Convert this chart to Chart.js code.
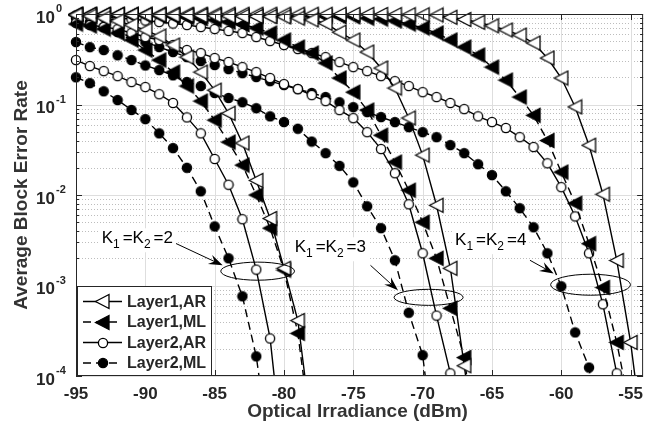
<!DOCTYPE html>
<html>
<head>
<meta charset="utf-8">
<script src="https://cdn.jsdelivr.net/npm/chart.js@4.4.1/dist/chart.umd.min.js"></script>
<style>
  html, body { margin: 0; padding: 0; background: #fff; }
  canvas { display: block; }
</style>
</head>
<body>
<canvas id="chartBler" width="653" height="430"></canvas>
<script>
/* === BLER vs optical irradiance, K1=K2=2,3,4 === */

// Abscisse commune (dBm), un point par dB
const irradiance = [-95, -94, -93, -92, -91, -90, -89, -88, -87, -86, -85, -84, -83, -82,
  -81, -80, -79, -78, -77, -76, -75, -74, -73, -72, -71, -70, -69, -68, -67, -66, -65,
  -64, -63, -62, -61, -60, -59, -58, -57, -56, -55, -54];

// K1=K2=2
const k2Layer1AR = [0.975, 0.95, 0.903, 0.837, 0.755, 0.665, 0.57, 0.454, 0.334, 0.228,
  0.144, 0.080, 0.0375, 0.0145, 0.0055, 0.00155, 0.00041, 0.000025];
const k2Layer1ML = [0.775, 0.737, 0.682, 0.616, 0.516, 0.40, 0.31, 0.228, 0.16, 0.109,
  0.0672, 0.0384, 0.0214, 0.01, 0.0043, 0.00148, 0.000296, 0.00002];
const k2Layer2AR = [0.31, 0.266, 0.234, 0.206, 0.177, 0.156, 0.130, 0.104, 0.072, 0.048,
  0.025, 0.013, 0.0054, 0.0015, 0.00026, 0.00001];
const k2Layer2ML = [0.20, 0.172, 0.14, 0.112, 0.087, 0.069, 0.048, 0.033, 0.020, 0.011,
  0.0045, 0.002, 0.00076, 0.000165, 0.000013];

// K1=K2=3
const k3Layer1AR = [0.99, 0.99, 0.985, 0.985, 0.98, 0.98, 0.975, 0.97, 0.965, 0.96, 0.955,
  0.95, 0.945, 0.94, 0.935, 0.93, 0.90, 0.86, 0.79, 0.63, 0.516, 0.38, 0.253, 0.152, 0.071,
  0.0276, 0.0077, 0.00155, 0.00013, 0.00001];
const k3Layer1ML = [0.97, 0.968, 0.965, 0.962, 0.958, 0.955, 0.95, 0.938, 0.915, 0.89,
  0.858, 0.815, 0.765, 0.70, 0.616, 0.516, 0.431, 0.37, 0.287, 0.196, 0.137, 0.0867, 0.0458,
  0.0231, 0.0113, 0.005, 0.002, 0.00056, 0.00016, 0.000012];
const k3Layer2AR = [0.80, 0.755, 0.718, 0.68, 0.616, 0.557, 0.516, 0.454, 0.40, 0.37, 0.326,
  0.295, 0.259, 0.228, 0.196, 0.168, 0.148, 0.127, 0.109, 0.0868, 0.0707, 0.0495, 0.0322,
  0.0174, 0.0079, 0.00227, 0.000465, 0.000107, 0.00001];
const k3Layer2ML = [0.49, 0.43, 0.40, 0.35, 0.31, 0.27, 0.24, 0.21, 0.177, 0.16, 0.134, 0.118,
  0.106, 0.091, 0.074, 0.064, 0.054, 0.039, 0.029, 0.021, 0.0138, 0.0075, 0.0043, 0.0019,
  0.0005, 0.00017, 0.00001];

// K1=K2=4
const k4Layer1AR = [0.995, 0.995, 0.995, 0.995, 0.995, 0.995, 0.995, 0.995, 0.995, 0.995,
  0.995, 0.995, 0.995, 0.995, 0.995, 0.995, 0.995, 0.995, 0.993, 0.992, 0.99, 0.99, 0.988,
  0.985, 0.982, 0.98, 0.975, 0.92, 0.87, 0.81, 0.74, 0.665, 0.585, 0.478, 0.326, 0.196,
  0.094, 0.0355, 0.0102, 0.00189, 0.000235, 0.000015];
const k4Layer1ML = [0.985, 0.985, 0.984, 0.983, 0.982, 0.98, 0.978, 0.975, 0.972, 0.97,
  0.967, 0.964, 0.96, 0.957, 0.953, 0.95, 0.946, 0.942, 0.938, 0.934, 0.93, 0.90, 0.88,
  0.837, 0.775, 0.70, 0.616, 0.516, 0.431, 0.352, 0.259, 0.186, 0.121, 0.076, 0.040, 0.0179,
  0.0081, 0.0029, 0.00095, 0.000235, 0.00004];
const k4Layer2AR = [0.962, 0.95, 0.926, 0.903, 0.88, 0.847, 0.815, 0.785, 0.755, 0.718, 0.682,
  0.649, 0.616, 0.557, 0.503, 0.454, 0.41, 0.37, 0.334, 0.294, 0.259, 0.234, 0.206, 0.181,
  0.16, 0.137, 0.121, 0.104, 0.089, 0.074, 0.064, 0.055, 0.0436, 0.0339, 0.0224, 0.0122,
  0.0058, 0.00227, 0.00062, 0.000107, 0.00001];
const k4Layer2ML = [0.90, 0.815, 0.718, 0.632, 0.557, 0.49, 0.431, 0.38, 0.334, 0.302, 0.273,
  0.246, 0.222, 0.201, 0.181, 0.164, 0.148, 0.134, 0.121, 0.106, 0.0935, 0.0824, 0.0726,
  0.0639, 0.0562, 0.0495, 0.0436, 0.0356, 0.029, 0.0219, 0.0166, 0.011, 0.00714, 0.0044,
  0.00227, 0.00098, 0.000303, 0.000124, 0.00001];

// Graduations
const xTicks = [-95, -90, -85, -80, -75, -70, -65, -60, -55];
const yDecades = [0, -1, -2, -3, -4];
const legendLabels = ['Layer1,AR', 'Layer1,ML', 'Layer2,AR', 'Layer2,ML'];

// Annotations (coordonnées en dBm / BLER)
const kValues = [2, 3, 4];
const labelAt = [[-93.15, 2.93e-3], [-79.23, 2.33e-3], [-67.66, 2.79e-3]];
const arrowFrom = [[-87.83, 2.93e-3], [-73.76, 1.67e-3], [-62.26, 1.9e-3]];
const arrowTo = [[-84.42, 1.67e-3], [-71.78, 8.85e-4], [-60.55, 1.36e-3]];
const ringAt = [[-81.9, 1.44e-3], [-69.57, 7.4e-4], [-57.89, 1.02e-3]];
const ringHalfDb = [2.66, 2.49, 2.88];
const ringHalfDecade = [0.1, 0.0885, 0.116];

const FONT = '"Liberation Sans", Arial, Helvetica, sans-serif';
const INK = '#262626';

// Marqueurs façon MATLAB ('<' et 'o'), dessinés une fois
function markerCanvas(shape, filled) {
  const s = shape === 'triangle' ? 17 : 12;
  const c = document.createElement('canvas');
  c.width = s; c.height = s;
  const g = c.getContext('2d');
  g.lineWidth = 1.3;
  g.strokeStyle = '#000';
  g.fillStyle = filled ? '#000' : '#fff';
  g.beginPath();
  if (shape === 'triangle') {
    g.moveTo(1.5, s / 2);
    g.lineTo(s - 2, 1.5);
    g.lineTo(s - 2, s - 1.5);
    g.closePath();
  } else {
    g.arc(s / 2, s / 2, s / 2 - 1.4, 0, 2 * Math.PI);
  }
  g.fill();
  g.stroke();
  return c;
}

// Styles des 4 types de courbe
const STYLES = [
  { img: markerCanvas('triangle', false), dash: [] },
  { img: markerCanvas('triangle', true), dash: [8, 5] },
  { img: markerCanvas('circle', false), dash: [] },
  { img: markerCanvas('circle', true), dash: [8, 5] }
];

function toPoints(vals) {
  return vals.map((v, i) => ({ x: irradiance[i], y: v }));
}

function makeDataset(label, vals, st) {
  return {
    label: label,
    data: toPoints(vals),
    borderColor: '#000',
    borderWidth: 1.4,
    borderDash: st.dash,
    fill: false,
    tension: 0,
    pointStyle: st.img,
    pointRadius: st.img.width / 2,
    pointHoverRadius: st.img.width / 2,
    clip: { left: 12, top: 12, right: 2, bottom: 0 }
  };
}

const series = [
  ['K2 ' + legendLabels[0], k2Layer1AR, 0], ['K2 ' + legendLabels[1], k2Layer1ML, 1],
  ['K2 ' + legendLabels[2], k2Layer2AR, 2], ['K2 ' + legendLabels[3], k2Layer2ML, 3],
  ['K3 ' + legendLabels[0], k3Layer1AR, 0], ['K3 ' + legendLabels[1], k3Layer1ML, 1],
  ['K3 ' + legendLabels[2], k3Layer2AR, 2], ['K3 ' + legendLabels[3], k3Layer2ML, 3],
  ['K4 ' + legendLabels[0], k4Layer1AR, 0], ['K4 ' + legendLabels[1], k4Layer1ML, 1],
  ['K4 ' + legendLabels[2], k4Layer2AR, 2], ['K4 ' + legendLabels[3], k4Layer2ML, 3]
];

// K_1=K_2=n avec indices
function drawKLabel(ctx, x, y, k) {
  const parts = [['K', 0], ['1', 1], ['=', 0], ['K', 0], ['2', 1], ['=', 0], [String(k), 0]];
  const big = '17px ' + FONT, small = '12px ' + FONT;
  let w = 0;
  parts.forEach(p => { ctx.font = p[1] ? small : big; w += ctx.measureText(p[0]).width + (p[1] ? 3 : 0); });
  ctx.fillStyle = '#fff';
  ctx.fillRect(x - 3, y - 15, w + 6, 24);
  ctx.fillStyle = '#000';
  ctx.textAlign = 'left';
  ctx.textBaseline = 'alphabetic';
  let cx = x;
  parts.forEach(p => {
    ctx.font = p[1] ? small : big;
    ctx.fillText(p[0], cx, p[1] ? y + 5 : y);
    cx += ctx.measureText(p[0]).width + (p[1] ? 3 : 0);
  });
}

function drawArrow(ctx, x1, y1, x2, y2) {
  const ang = Math.atan2(y2 - y1, x2 - x1);
  const len = 14, half = 5;
  ctx.save();
  ctx.strokeStyle = '#000';
  ctx.fillStyle = '#000';
  ctx.lineWidth = 1;
  ctx.beginPath();
  ctx.moveTo(x1, y1);
  ctx.lineTo(x2 - Math.cos(ang) * len * 0.6, y2 - Math.sin(ang) * len * 0.6);
  ctx.stroke();
  ctx.translate(x2, y2);
  ctx.rotate(ang);
  ctx.beginPath();
  ctx.moveTo(0, 0);
  ctx.lineTo(-len, -half);
  ctx.lineTo(-len * 0.65, 0);
  ctx.lineTo(-len, half);
  ctx.closePath();
  ctx.fill();
  ctx.restore();
}

const axesFrame = {
  id: 'axesFrame',
  beforeDatasetsDraw(chart) {
    const { ctx, chartArea: a, scales: { x, y } } = chart;
    ctx.save();
    ctx.lineWidth = 1;
    // grille mineure pointillée
    ctx.strokeStyle = '#bdbdbd';
    ctx.setLineDash([1, 2]);
    yDecades.slice(1).forEach(e => {
      for (let m = 2; m <= 9; m++) {
        const py = Math.round(y.getPixelForValue(m * Math.pow(10, e))) + 0.5;
        ctx.beginPath(); ctx.moveTo(a.left, py); ctx.lineTo(a.right, py); ctx.stroke();
      }
    });
    // grille majeure
    ctx.setLineDash([]);
    ctx.strokeStyle = '#dedede';
    yDecades.forEach(e => {
      const py = Math.round(y.getPixelForValue(Math.pow(10, e))) + 0.5;
      ctx.beginPath(); ctx.moveTo(a.left, py); ctx.lineTo(a.right, py); ctx.stroke();
    });
    xTicks.forEach(t => {
      const px = Math.round(x.getPixelForValue(t)) + 0.5;
      ctx.beginPath(); ctx.moveTo(px, a.top); ctx.lineTo(px, a.bottom); ctx.stroke();
    });
    ctx.restore();
  },
  afterDatasetsDraw(chart) {
    const { ctx, chartArea: a, scales: { x, y } } = chart;
    ctx.save();

    // ellipses, flèches, étiquettes
    kValues.forEach((k, i) => {
      const cx = x.getPixelForValue(ringAt[i][0]);
      const cy = y.getPixelForValue(ringAt[i][1]);
      const rx = x.getPixelForValue(ringAt[i][0] + ringHalfDb[i]) - cx;
      const ry = cy - y.getPixelForValue(ringAt[i][1] * Math.pow(10, ringHalfDecade[i]));
      ctx.strokeStyle = '#000';
      ctx.lineWidth = 1;
      ctx.beginPath();
      ctx.ellipse(cx, cy, rx, ry, 0, 0, 2 * Math.PI);
      ctx.stroke();
      drawArrow(ctx,
        x.getPixelForValue(arrowFrom[i][0]), y.getPixelForValue(arrowFrom[i][1]),
        x.getPixelForValue(arrowTo[i][0]), y.getPixelForValue(arrowTo[i][1]));
      drawKLabel(ctx, x.getPixelForValue(labelAt[i][0]), y.getPixelForValue(labelAt[i][1]), k);
    });

    // cadre + graduations
    ctx.strokeStyle = INK;
    ctx.lineWidth = 1;
    ctx.strokeRect(a.left + 0.5, a.top + 0.5, a.right - a.left - 1, a.bottom - a.top - 1);
    ctx.beginPath();
    xTicks.forEach(t => {
      const px = Math.round(x.getPixelForValue(t)) + 0.5;
      ctx.moveTo(px, a.bottom); ctx.lineTo(px, a.bottom - 6);
      ctx.moveTo(px, a.top); ctx.lineTo(px, a.top + 6);
    });
    yDecades.forEach(e => {
      const py = Math.round(y.getPixelForValue(Math.pow(10, e))) + 0.5;
      ctx.moveTo(a.left, py); ctx.lineTo(a.left + 6, py);
      ctx.moveTo(a.right, py); ctx.lineTo(a.right - 6, py);
      if (e === yDecades[yDecades.length - 1]) return;
      for (let m = 2; m <= 9; m++) {
        const pm = Math.round(y.getPixelForValue(m * Math.pow(10, e - 1))) + 0.5;
        ctx.moveTo(a.left, pm); ctx.lineTo(a.left + 3, pm);
        ctx.moveTo(a.right, pm); ctx.lineTo(a.right - 3, pm);
      }
    });
    ctx.stroke();

    // étiquettes X
    ctx.fillStyle = INK;
    ctx.font = 'bold 17px ' + FONT;
    ctx.textAlign = 'center';
    ctx.textBaseline = 'middle';
    xTicks.forEach(t => ctx.fillText(String(t), x.getPixelForValue(t), a.bottom + 18));

    // étiquettes Y en puissances de 10
    yDecades.forEach(e => {
      const py = y.getPixelForValue(Math.pow(10, e));
      ctx.font = 'bold 17px ' + FONT;
      ctx.textAlign = 'right';
      ctx.fillText('10', 55, py + 4);
      ctx.font = 'bold 11px ' + FONT;
      ctx.textAlign = 'left';
      ctx.fillText(e === 0 ? '0' : '-' + (-e), 56, py - 5);
    });

    // titres des axes
    ctx.fillStyle = '#333';
    ctx.font = 'bold 19px ' + FONT;
    ctx.textAlign = 'center';
    ctx.fillText('Optical Irradiance (dBm)', (a.left + a.right) / 2 - 2, a.bottom + 36);
    ctx.save();
    ctx.translate(22, (a.top + a.bottom) / 2);
    ctx.rotate(-Math.PI / 2);
    ctx.fillText('Average Block Error Rate', 0, 0);
    ctx.restore();

    // légende
    const lx = a.left + 1, ly = 286, lw = 135, lh = a.bottom - ly;
    ctx.fillStyle = '#fff';
    ctx.fillRect(lx, ly, lw, lh);
    ctx.strokeStyle = INK;
    ctx.strokeRect(lx + 0.5, ly + 0.5, lw - 1, lh - 1);
    legendLabels.forEach((lab, i) => {
      const st = STYLES[i];
      const yy = ly + 15.5 + i * 20.5;
      ctx.save();
      ctx.strokeStyle = '#000';
      ctx.lineWidth = 1.4;
      ctx.setLineDash(st.dash);
      ctx.beginPath(); ctx.moveTo(lx + 6, yy); ctx.lineTo(lx + 45, yy); ctx.stroke();
      ctx.restore();
      ctx.drawImage(st.img, Math.round(lx + 25.5 - st.img.width / 2), Math.round(yy - st.img.height / 2));
      ctx.fillStyle = INK;
      ctx.font = 'bold 16px ' + FONT;
      ctx.textAlign = 'left';
      ctx.textBaseline = 'middle';
      ctx.fillText(lab, lx + 50, yy + 1);
    });
    ctx.restore();
  }
};

const chartBler = new Chart(document.getElementById('chartBler'), {
  type: 'line',
  data: {
    datasets: series.map(s => makeDataset(s[0], s[1], STYLES[s[2]]))
  },
  options: {
    responsive: false,
    animation: false,
    devicePixelRatio: 1,
    layout: { padding: { left: 76, top: 14, right: 1, bottom: 54 } },
    plugins: { legend: { display: false }, tooltip: { enabled: false } },
    events: [],
    scales: {
      x: { type: 'linear', min: -95, max: -54.1, display: false },
      y: { type: 'logarithmic', min: 1e-4, max: 1, display: false }
    }
  },
  plugins: [axesFrame]
});
</script>
</body>
</html>
